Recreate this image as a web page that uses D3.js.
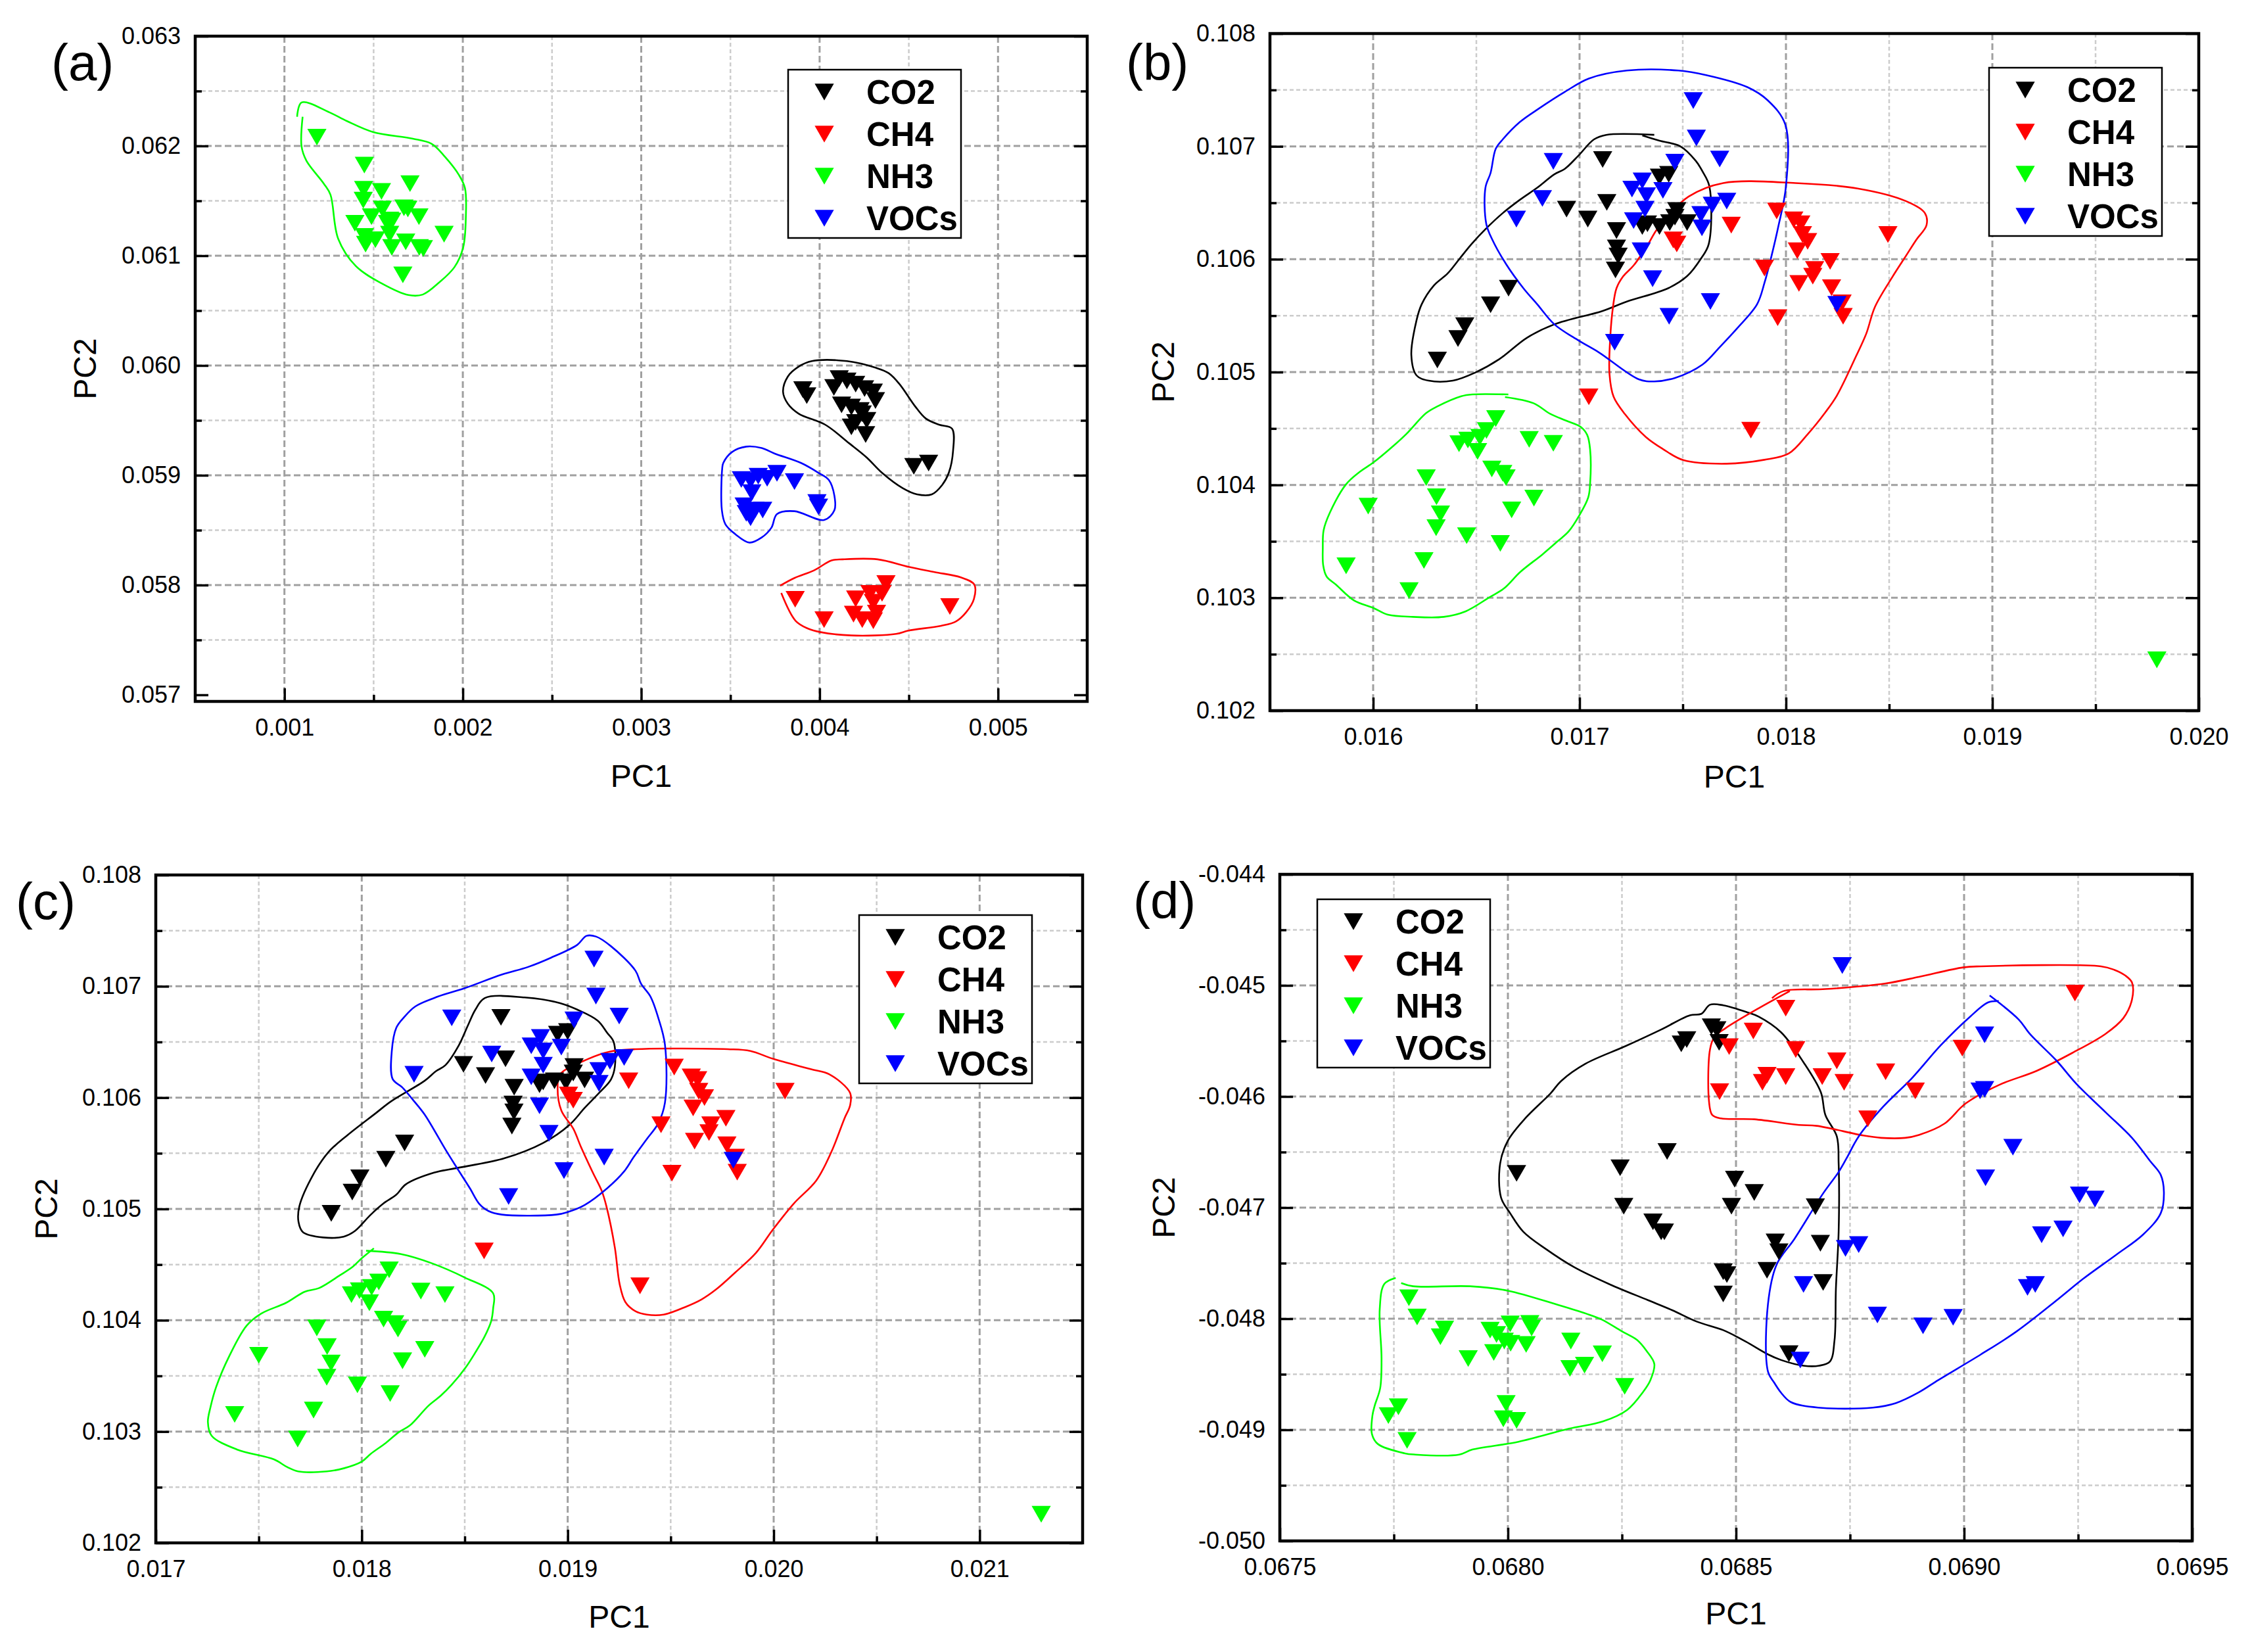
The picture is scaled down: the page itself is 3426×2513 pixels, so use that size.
<!DOCTYPE html>
<html>
<head>
<meta charset="utf-8">
<script src="https://cdn.jsdelivr.net/npm/d3@7"></script>
<style>
  body { margin: 0; background: #fff; }
  text { font-family: "Liberation Sans", Arial, sans-serif; }
  .grid-major { stroke: #a0a0a0; stroke-width: 3; stroke-dasharray: 10,5; }
  .grid-minor { stroke: #cccccc; stroke-width: 2.5; stroke-dasharray: 6,4; }
</style>
</head>
<body>
<svg width="3426" height="2513"></svg>
<script>
const svg = d3.select('svg')
const w = +svg.attr('width')
const h = +svg.attr('height')

const seriesNames = ['CO2', 'CH4', 'NH3', 'VOCs']
const seriesColors = ['#000000', '#ff0000', '#00ff00', '#0000ff']

// ---- panel (a) ----
const a_xTicks = [0.001, 0.002, 0.003, 0.004, 0.005]
const a_xMinor = [0.0015, 0.0025, 0.0035, 0.0045]
const a_yTicks = [0.057, 0.058, 0.059, 0.060, 0.061, 0.062, 0.063]
const a_yMinor = [0.0575, 0.0585, 0.0595, 0.0605, 0.0615, 0.0625]

const a_CO2 = [[0.003906,0.059780],[0.003928,0.059725],[0.004110,0.059880],[0.004080,0.059800],[0.004153,0.059860],[0.004202,0.059830],[0.004252,0.059790],[0.004301,0.059760],[0.004313,0.059681],[0.004123,0.059641],[0.004178,0.059621],[0.004227,0.059591],[0.004239,0.059561],[0.004202,0.059481],[0.004178,0.059441],[0.004264,0.059501],[0.004258,0.059371],[0.004528,0.059082],[0.004611,0.059112]]
const a_CH4 = [[0.003863,0.057870],[0.004025,0.057685],[0.004202,0.057874],[0.004282,0.057924],[0.004372,0.058014],[0.004350,0.057924],[0.004190,0.057735],[0.004239,0.057685],[0.004301,0.057675],[0.004319,0.057745],[0.004301,0.057844],[0.004730,0.057804]]
const a_NH3 = [[0.001182,0.062080],[0.001448,0.061826],[0.001444,0.061606],[0.001544,0.061586],[0.001704,0.061656],[0.001442,0.061506],[0.001549,0.061426],[0.001670,0.061436],[0.001692,0.061426],[0.001488,0.061356],[0.001395,0.061296],[0.001590,0.061326],[0.001602,0.061316],[0.001754,0.061356],[0.001449,0.061176],[0.001510,0.061146],[0.001590,0.061196],[0.001602,0.061076],[0.001680,0.061126],[0.001756,0.061076],[0.001779,0.061066],[0.001895,0.061196],[0.001664,0.060826],[0.001455,0.061106],[0.001578,0.061296]]
const a_VOCs = [[0.003561,0.058962],[0.003613,0.058952],[0.003656,0.058992],[0.003706,0.058972],[0.003761,0.059018],[0.003859,0.058942],[0.003620,0.058842],[0.003577,0.058722],[0.003681,0.058683],[0.003613,0.058613],[0.003589,0.058653],[0.003985,0.058752],[0.003994,0.058712],[0.003638,0.058683]]

const a_CO2_hull = [[0.003822,0.059900],[0.003883,0.059990],[0.003957,0.060040],[0.004153,0.060040],[0.004313,0.059980],[0.004387,0.059930],[0.004448,0.059830],[0.004534,0.059631],[0.004595,0.059517],[0.004669,0.059461],[0.004742,0.059425],[0.004748,0.059222],[0.004724,0.059022],[0.004687,0.058912],[0.004629,0.058826],[0.004546,0.058826],[0.004466,0.058882],[0.004350,0.059022],[0.004264,0.059162],[0.004166,0.059291],[0.004031,0.059461],[0.003883,0.059561],[0.003822,0.059651],[0.003795,0.059760]]
const a_CH4_hull = [[0.003785,0.057928],[0.003865,0.057675],[0.003933,0.057605],[0.004006,0.057571],[0.004178,0.057541],[0.004429,0.057555],[0.004497,0.057585],[0.004681,0.057629],[0.004764,0.057669],[0.004822,0.057754],[0.004865,0.057874],[0.004867,0.058004],[0.004791,0.058070],[0.004644,0.058118],[0.004503,0.058164],[0.004325,0.058234],[0.004129,0.058234],[0.004067,0.058224],[0.003969,0.058134],[0.003859,0.058064],[0.003779,0.057994]]
const a_NH3_hull = [[0.001102,0.062266],[0.001096,0.061996],[0.001123,0.061866],[0.001221,0.061656],[0.001258,0.061556],[0.001301,0.061156],[0.001400,0.060906],[0.001547,0.060746],[0.001695,0.060642],[0.001775,0.060646],[0.001867,0.060756],[0.001953,0.060896],[0.002002,0.061076],[0.002017,0.061356],[0.002012,0.061616],[0.001978,0.061736],[0.001892,0.061916],[0.001824,0.062020],[0.001720,0.062066],[0.001498,0.062126],[0.001351,0.062226],[0.001252,0.062306],[0.001096,0.062396],[0.001071,0.062266]]
const a_VOCs_hull = [[0.003509,0.059212],[0.003589,0.059261],[0.003675,0.059248],[0.003748,0.059198],[0.003896,0.059112],[0.003994,0.059022],[0.004052,0.058956],[0.004083,0.058812],[0.004083,0.058683],[0.004025,0.058593],[0.003859,0.058673],[0.003761,0.058647],[0.003730,0.058523],[0.003675,0.058433],[0.003607,0.058387],[0.003528,0.058463],[0.003472,0.058553],[0.003452,0.058683],[0.003454,0.059062],[0.003460,0.059112]]

// ---- panel (b) ----
const b_xTicks = [0.016, 0.017, 0.018, 0.019, 0.020]
const b_xMinor = [0.0165, 0.0175, 0.0185, 0.0195]
const b_yTicks = [0.102, 0.103, 0.104, 0.105, 0.106, 0.107, 0.108]
const b_yMinor = [0.1025, 0.1035, 0.1045, 0.1055, 0.1065, 0.1075]

const b_CO2 = [[0.017112,0.106884],[0.016937,0.106444],[0.017040,0.106356],[0.017132,0.106504],[0.017179,0.106254],[0.017179,0.106100],[0.017187,0.106029],[0.017174,0.105905],[0.017387,0.106729],[0.017432,0.106753],[0.017471,0.106432],[0.017329,0.106314],[0.017387,0.106290],[0.017437,0.106325],[0.017521,0.106325],[0.017462,0.106373],[0.017304,0.106290],[0.016656,0.105743],[0.016569,0.105596],[0.016444,0.105411],[0.016411,0.105297],[0.016311,0.105107]]
const b_CH4 = [[0.017955,0.106428],[0.017735,0.106302],[0.017454,0.106171],[0.017471,0.106135],[0.018038,0.106349],[0.018072,0.106314],[0.018080,0.106219],[0.018105,0.106159],[0.018055,0.106076],[0.018494,0.106219],[0.017896,0.105922],[0.018214,0.105981],[0.018139,0.105910],[0.018130,0.105850],[0.018063,0.105786],[0.018221,0.105748],[0.018272,0.105613],[0.018277,0.105494],[0.017960,0.105482],[0.017045,0.104781],[0.017830,0.104485]]
const b_NH3 = [[0.016594,0.104588],[0.016549,0.104482],[0.016517,0.104423],[0.016459,0.104398],[0.016416,0.104365],[0.016506,0.104297],[0.016756,0.104404],[0.016873,0.104369],[0.016575,0.104142],[0.016628,0.104103],[0.016644,0.104064],[0.016257,0.104064],[0.016307,0.103895],[0.015976,0.103812],[0.016779,0.103883],[0.016671,0.103779],[0.016326,0.103744],[0.016305,0.103621],[0.016453,0.103550],[0.016616,0.103482],[0.016246,0.103330],[0.015869,0.103283],[0.016174,0.103064],[0.019797,0.102450]]
const b_VOCs = [[0.017551,0.107406],[0.017566,0.107074],[0.017679,0.106888],[0.016873,0.106867],[0.017462,0.106860],[0.017304,0.106694],[0.017254,0.106622],[0.017404,0.106610],[0.017324,0.106563],[0.016820,0.106539],[0.017317,0.106444],[0.016694,0.106356],[0.017262,0.106342],[0.017643,0.106480],[0.017713,0.106515],[0.017588,0.106397],[0.017593,0.106278],[0.017299,0.106076],[0.017354,0.105827],[0.017634,0.105625],[0.017434,0.105494],[0.017170,0.105264],[0.018247,0.105601]]

const b_CO2_hull = [[0.017362,0.107102],[0.017129,0.107102],[0.017070,0.107062],[0.016995,0.106919],[0.016928,0.106800],[0.016878,0.106753],[0.016795,0.106634],[0.016711,0.106527],[0.016628,0.106409],[0.016544,0.106266],[0.016477,0.106135],[0.016419,0.106005],[0.016361,0.105874],[0.016294,0.105767],[0.016235,0.105601],[0.016210,0.105458],[0.016185,0.105150],[0.016210,0.104971],[0.016269,0.104924],[0.016386,0.104924],[0.016494,0.104995],[0.016611,0.105114],[0.016745,0.105304],[0.016878,0.105423],[0.017112,0.105542],[0.017229,0.105625],[0.017429,0.105743],[0.017521,0.105850],[0.017588,0.106005],[0.017626,0.106135],[0.017629,0.106646],[0.017596,0.106777],[0.017563,0.106872],[0.017487,0.107002],[0.017387,0.107050],[0.017304,0.107097]]
const b_CH4_hull = [[0.017529,0.106556],[0.017696,0.106675],[0.018047,0.106675],[0.018347,0.106627],[0.018581,0.106515],[0.018673,0.106409],[0.018681,0.106302],[0.018631,0.106171],[0.018581,0.106029],[0.018514,0.105838],[0.018431,0.105577],[0.018389,0.105340],[0.018339,0.105138],[0.018247,0.104793],[0.018189,0.104639],[0.018105,0.104449],[0.018013,0.104278],[0.017896,0.104223],[0.017713,0.104188],[0.017504,0.104219],[0.017404,0.104318],[0.017321,0.104425],[0.017220,0.104627],[0.017165,0.104781],[0.017145,0.104983],[0.017149,0.105316],[0.017162,0.105577],[0.017179,0.105743],[0.017212,0.105850],[0.017262,0.105945],[0.017329,0.106124],[0.017371,0.106254],[0.017429,0.106385]]
const b_NH3_hull = [[0.016639,0.104779],[0.016777,0.104724],[0.016857,0.104631],[0.016936,0.104569],[0.017005,0.104515],[0.017037,0.104443],[0.017051,0.104317],[0.017051,0.104006],[0.017042,0.103889],[0.017000,0.103734],[0.016947,0.103588],[0.016894,0.103501],[0.016820,0.103384],[0.016713,0.103229],[0.016634,0.103083],[0.016565,0.103006],[0.016448,0.102880],[0.016342,0.102831],[0.016193,0.102831],[0.016071,0.102850],[0.016002,0.102909],[0.015907,0.102977],[0.015822,0.103113],[0.015774,0.103190],[0.015758,0.103287],[0.015756,0.103443],[0.015760,0.103598],[0.015790,0.103753],[0.015869,0.104006],[0.015933,0.104113],[0.016002,0.104200],[0.016098,0.104346],[0.016161,0.104452],[0.016257,0.104637],[0.016310,0.104695],[0.016427,0.104786],[0.016480,0.104802],[0.016655,0.104802]]
const b_VOCs_hull = [[0.016544,0.106634],[0.016569,0.106765],[0.016594,0.106979],[0.016628,0.107062],[0.016711,0.107216],[0.016803,0.107335],[0.016928,0.107482],[0.017045,0.107601],[0.017229,0.107672],[0.017479,0.107672],[0.017613,0.107632],[0.017813,0.107525],[0.017913,0.107406],[0.017997,0.107192],[0.018000,0.106646],[0.017963,0.106290],[0.017930,0.106029],[0.017896,0.105791],[0.017860,0.105601],[0.017763,0.105387],[0.017679,0.105221],[0.017596,0.105067],[0.017462,0.104948],[0.017362,0.104917],[0.017287,0.104936],[0.017095,0.105173],[0.016995,0.105280],[0.016878,0.105423],[0.016795,0.105601],[0.016728,0.105743],[0.016644,0.105957],[0.016578,0.106171],[0.016548,0.106314]]

// ---- panel (c) ----
const c_xTicks = [0.017, 0.018, 0.019, 0.020, 0.021]
const c_xMinor = [0.0175, 0.0185, 0.0195, 0.0205]
const c_yTicks = [0.102, 0.103, 0.104, 0.105, 0.106, 0.107, 0.108]
const c_yMinor = [0.1025, 0.1035, 0.1045, 0.1055, 0.1065, 0.1075]

const c_CO2 = [[0.018676,0.106721],[0.018494,0.106298],[0.018601,0.106198],[0.018698,0.106349],[0.018740,0.106093],[0.018735,0.105942],[0.018739,0.105872],[0.018729,0.105744],[0.018951,0.106570],[0.019000,0.106593],[0.019031,0.106279],[0.018881,0.106140],[0.018936,0.106151],[0.018991,0.106140],[0.019082,0.106158],[0.019027,0.106221],[0.018863,0.106116],[0.018208,0.105593],[0.018117,0.105447],[0.017991,0.105279],[0.017954,0.105151],[0.017852,0.104960]]
const c_CH4 = [[0.019517,0.106274],[0.019296,0.106151],[0.019004,0.106023],[0.019027,0.105977],[0.019600,0.106186],[0.019631,0.106163],[0.019636,0.106058],[0.019664,0.106000],[0.019609,0.105907],[0.020055,0.106058],[0.019453,0.105756],[0.019768,0.105814],[0.019695,0.105756],[0.019686,0.105686],[0.019616,0.105609],[0.019773,0.105577],[0.019814,0.105465],[0.019823,0.105330],[0.019506,0.105321],[0.018594,0.104623],[0.019351,0.104309]]
const c_NH3 = [[0.018133,0.104453],[0.018083,0.104344],[0.018048,0.104295],[0.017989,0.104266],[0.017950,0.104230],[0.018037,0.104157],[0.018287,0.104262],[0.018404,0.104230],[0.018106,0.104010],[0.018160,0.103970],[0.018176,0.103921],[0.017782,0.103931],[0.017832,0.103764],[0.017500,0.103685],[0.018306,0.103738],[0.018198,0.103636],[0.017851,0.103616],[0.017830,0.103488],[0.017979,0.103419],[0.018138,0.103341],[0.017766,0.103193],[0.017383,0.103154],[0.017689,0.102933],[0.021299,0.102257]]
const c_VOCs = [[0.019128,0.107244],[0.019137,0.106912],[0.019250,0.106733],[0.018437,0.106716],[0.019031,0.106698],[0.018868,0.106540],[0.018823,0.106465],[0.018969,0.106453],[0.018881,0.106419],[0.018631,0.106391],[0.018881,0.106291],[0.018254,0.106209],[0.018823,0.106186],[0.019205,0.106326],[0.019274,0.106360],[0.019152,0.106244],[0.019152,0.106128],[0.018863,0.105926],[0.018909,0.105679],[0.019177,0.105465],[0.018982,0.105344],[0.018713,0.105112],[0.019804,0.105437]]

const c_CO2_hull = [[0.018598,0.106895],[0.018790,0.106900],[0.018963,0.106849],[0.019046,0.106791],[0.019146,0.106691],[0.019192,0.106581],[0.019223,0.106500],[0.019229,0.106279],[0.019210,0.106163],[0.019155,0.106047],[0.019082,0.105907],[0.019009,0.105756],[0.018881,0.105593],[0.018689,0.105453],[0.018461,0.105367],[0.018351,0.105326],[0.018214,0.105221],[0.018168,0.105128],[0.018104,0.105047],[0.018040,0.104942],[0.017967,0.104802],[0.017912,0.104751],[0.017812,0.104744],[0.017715,0.104791],[0.017693,0.104884],[0.017697,0.105023],[0.017766,0.105314],[0.017839,0.105512],[0.017931,0.105663],[0.018068,0.105860],[0.018141,0.105965],[0.018305,0.106151],[0.018360,0.106237],[0.018406,0.106291],[0.018470,0.106465],[0.018516,0.106651],[0.018552,0.106791]]
const c_CH4_hull = [[0.018963,0.106209],[0.019101,0.106349],[0.019201,0.106412],[0.019329,0.106435],[0.019777,0.106435],[0.019887,0.106419],[0.019996,0.106349],[0.020179,0.106256],[0.020271,0.106209],[0.020371,0.106042],[0.020371,0.105930],[0.020344,0.105814],[0.020280,0.105512],[0.020207,0.105256],[0.020097,0.105047],[0.019996,0.104814],[0.019914,0.104605],[0.019814,0.104430],[0.019722,0.104279],[0.019649,0.104186],[0.019567,0.104116],[0.019466,0.104051],[0.019384,0.104051],[0.019329,0.104081],[0.019280,0.104163],[0.019252,0.104326],[0.019229,0.104651],[0.019188,0.105023],[0.019165,0.105163],[0.019122,0.105326],[0.019064,0.105558],[0.019027,0.105721],[0.018969,0.105884],[0.018951,0.106093]]
const c_NH3_hull = [[0.018021,0.104624],[0.018191,0.104594],[0.018340,0.104512],[0.018500,0.104384],[0.018638,0.104242],[0.018638,0.104108],[0.018628,0.103990],[0.018596,0.103852],[0.018553,0.103715],[0.018505,0.103577],[0.018436,0.103419],[0.018383,0.103321],[0.018324,0.103232],[0.018234,0.103055],[0.018181,0.102996],[0.018117,0.102898],[0.018043,0.102799],[0.018000,0.102730],[0.017915,0.102671],[0.017830,0.102642],[0.017691,0.102642],[0.017638,0.102681],[0.017574,0.102750],[0.017394,0.102839],[0.017271,0.102963],[0.017253,0.103085],[0.017266,0.103222],[0.017293,0.103400],[0.017356,0.103675],[0.017441,0.103951],[0.017511,0.104059],[0.017633,0.104157],[0.017723,0.104256],[0.017793,0.104289],[0.017894,0.104404],[0.017957,0.104482],[0.018000,0.104557],[0.018059,0.104646]]
const c_VOCs_hull = [[0.018150,0.106167],[0.018146,0.106419],[0.018168,0.106628],[0.018205,0.106721],[0.018260,0.106819],[0.018369,0.106907],[0.018497,0.106981],[0.018680,0.107105],[0.018808,0.107174],[0.018918,0.107256],[0.019046,0.107372],[0.019091,0.107453],[0.019137,0.107447],[0.019210,0.107360],[0.019329,0.107140],[0.019356,0.107023],[0.019402,0.106907],[0.019439,0.106721],[0.019472,0.106477],[0.019472,0.105953],[0.019439,0.105767],[0.019384,0.105628],[0.019320,0.105465],[0.019274,0.105337],[0.019192,0.105186],[0.019082,0.105035],[0.019000,0.104972],[0.018945,0.104949],[0.018680,0.104949],[0.018616,0.104981],[0.018570,0.105047],[0.018525,0.105186],[0.018461,0.105372],[0.018406,0.105535],[0.018305,0.105849],[0.018250,0.105977],[0.018196,0.106093]]

// ---- panel (d) ----
const d_xTicks = [0.0675, 0.0680, 0.0685, 0.0690, 0.0695]
const d_xMinor = [0.06775, 0.06825, 0.06875, 0.06925]
const d_yTicks = [-0.050, -0.049, -0.048, -0.047, -0.046, -0.045, -0.044]
const d_yMinor = [-0.0495, -0.0485, -0.0475, -0.0465, -0.0455, -0.0445]

const d_CO2 = [[0.068446,-0.045372],[0.068458,-0.045397],[0.068392,-0.045487],[0.068380,-0.045526],[0.068463,-0.045513],[0.068349,-0.046495],[0.068246,-0.046641],[0.068019,-0.046692],[0.068497,-0.046744],[0.068540,-0.046864],[0.068254,-0.046987],[0.068490,-0.046987],[0.068674,-0.046992],[0.068318,-0.047128],[0.068336,-0.047218],[0.068343,-0.047218],[0.068586,-0.047308],[0.068594,-0.047397],[0.068685,-0.047321],[0.068472,-0.047577],[0.068480,-0.047603],[0.068568,-0.047564],[0.068691,-0.047674],[0.068472,-0.047777],[0.068616,-0.048315]]
const d_CH4 = [[0.068609,-0.045205],[0.068538,-0.045410],[0.068485,-0.045551],[0.068631,-0.045577],[0.068721,-0.045679],[0.068568,-0.045808],[0.068558,-0.045872],[0.068609,-0.045821],[0.068689,-0.045821],[0.068737,-0.045872],[0.068828,-0.045777],[0.068464,-0.045956],[0.068893,-0.045949],[0.068996,-0.045564],[0.068789,-0.046200],[0.069243,-0.045069]]
const d_NH3 = [[0.067783,-0.047811],[0.067801,-0.047984],[0.067861,-0.048093],[0.067852,-0.048162],[0.067961,-0.048103],[0.067975,-0.048142],[0.068005,-0.048047],[0.068048,-0.048043],[0.068052,-0.048083],[0.067992,-0.048201],[0.068006,-0.048221],[0.068040,-0.048231],[0.067969,-0.048304],[0.067913,-0.048359],[0.068138,-0.048201],[0.068207,-0.048316],[0.068168,-0.048418],[0.068136,-0.048448],[0.068256,-0.048609],[0.067996,-0.048763],[0.067760,-0.048793],[0.067738,-0.048872],[0.067990,-0.048901],[0.068019,-0.048915],[0.067779,-0.049095]]
const d_VOCs = [[0.068733,-0.044821],[0.069045,-0.045444],[0.069035,-0.045949],[0.069045,-0.045936],[0.069107,-0.046456],[0.069047,-0.046731],[0.069253,-0.046885],[0.069287,-0.046923],[0.069217,-0.047192],[0.069170,-0.047244],[0.068740,-0.047367],[0.068769,-0.047333],[0.068648,-0.047692],[0.069139,-0.047718],[0.069156,-0.047692],[0.068810,-0.047967],[0.068910,-0.048064],[0.068976,-0.047987],[0.068641,-0.048372]]

const d_CO2_hull = [[0.068443,-0.045174],[0.068472,-0.045179],[0.068526,-0.045244],[0.068550,-0.045282],[0.068599,-0.045423],[0.068648,-0.045692],[0.068686,-0.045962],[0.068696,-0.046167],[0.068721,-0.046359],[0.068725,-0.046603],[0.068725,-0.047218],[0.068719,-0.047731],[0.068716,-0.048192],[0.068706,-0.048385],[0.068682,-0.048423],[0.068648,-0.048423],[0.068599,-0.048372],[0.068570,-0.048321],[0.068521,-0.048205],[0.068472,-0.048103],[0.068414,-0.048026],[0.068360,-0.047923],[0.068307,-0.047833],[0.068224,-0.047692],[0.068146,-0.047538],[0.068083,-0.047372],[0.068034,-0.047218],[0.068005,-0.047051],[0.067985,-0.046910],[0.067983,-0.046603],[0.068000,-0.046397],[0.068039,-0.046192],[0.068093,-0.045974],[0.068117,-0.045859],[0.068170,-0.045705],[0.068258,-0.045546],[0.068336,-0.045397],[0.068399,-0.045269],[0.068424,-0.045256]]
const d_CH4_hull = [[0.068579,-0.045115],[0.068604,-0.045051],[0.068696,-0.045033],[0.068828,-0.044982],[0.068901,-0.044923],[0.068998,-0.044838],[0.069037,-0.044828],[0.069300,-0.044828],[0.069329,-0.044859],[0.069353,-0.044910],[0.069368,-0.044974],[0.069368,-0.045128],[0.069349,-0.045295],[0.069310,-0.045436],[0.069237,-0.045608],[0.069159,-0.045769],[0.069076,-0.045897],[0.069003,-0.046064],[0.068957,-0.046244],[0.068901,-0.046346],[0.068871,-0.046372],[0.068818,-0.046372],[0.068779,-0.046351],[0.068677,-0.046264],[0.068638,-0.046256],[0.068540,-0.046205],[0.068467,-0.046197],[0.068448,-0.046167],[0.068441,-0.046051],[0.068443,-0.045577],[0.068453,-0.045462],[0.068477,-0.045385],[0.068550,-0.045205],[0.068618,-0.045051]]
const d_NH3_hull = [[0.067766,-0.047679],[0.067792,-0.047708],[0.067917,-0.047708],[0.068000,-0.047748],[0.068110,-0.047876],[0.068172,-0.047955],[0.068206,-0.048008],[0.068249,-0.048112],[0.068283,-0.048191],[0.068304,-0.048290],[0.068321,-0.048408],[0.068312,-0.048556],[0.068297,-0.048655],[0.068261,-0.048822],[0.068208,-0.048925],[0.068134,-0.048990],[0.068023,-0.049108],[0.067922,-0.049178],[0.067893,-0.049223],[0.067797,-0.049223],[0.067773,-0.049211],[0.067715,-0.049128],[0.067702,-0.049039],[0.067703,-0.048872],[0.067708,-0.048783],[0.067720,-0.048625],[0.067723,-0.048359],[0.067719,-0.047915],[0.067729,-0.047688],[0.067754,-0.047633]]
const d_VOCs_hull = [[0.069056,-0.045090],[0.069120,-0.045308],[0.069144,-0.045436],[0.069203,-0.045679],[0.069246,-0.045885],[0.069310,-0.046141],[0.069368,-0.046372],[0.069407,-0.046577],[0.069431,-0.046705],[0.069438,-0.046859],[0.069431,-0.047051],[0.069392,-0.047244],[0.069334,-0.047423],[0.069261,-0.047641],[0.069207,-0.047821],[0.069115,-0.048115],[0.069037,-0.048321],[0.068944,-0.048551],[0.068901,-0.048662],[0.068850,-0.048760],[0.068800,-0.048800],[0.068680,-0.048800],[0.068620,-0.048750],[0.068599,-0.048667],[0.068584,-0.048577],[0.068570,-0.048474],[0.068570,-0.047872],[0.068589,-0.047513],[0.068628,-0.047282],[0.068691,-0.046872],[0.068725,-0.046679],[0.068743,-0.046551],[0.068769,-0.046359],[0.068823,-0.046090],[0.068886,-0.045833],[0.068949,-0.045538],[0.069013,-0.045282],[0.069052,-0.045154],[0.069076,-0.045141]]

// layout of the four panels (pixel boxes, legend boxes, label spots)
const panels = [
  { label: '(a)', lx: 78, ly: 122,
    xDomain: [0.0005, 0.0055], yDomain: [0.05694, 0.063],
    left: 297, right: 1654, top: 55, bottom: 1067,
    xTicks: a_xTicks, xMinor: a_xMinor, yTicks: a_yTicks, yMinor: a_yMinor,
    xFmt: d => d.toFixed(3), yFmt: d => d.toFixed(3),
    data: [a_CO2, a_CH4, a_NH3, a_VOCs],
    hulls: [[a_CO2_hull, true], [a_CH4_hull, false], [a_NH3_hull, false], [a_VOCs_hull, true]],
    legend: {x: 1199, y: 106}, xTitleY: 1197, yTitleX: 146 },
  { label: '(b)', lx: 1713, ly: 122,
    xDomain: [0.0155, 0.020], yDomain: [0.102, 0.108],
    left: 1932, right: 3345, top: 51, bottom: 1081,
    xTicks: b_xTicks, xMinor: b_xMinor, yTicks: b_yTicks, yMinor: b_yMinor,
    xFmt: d => d.toFixed(3), yFmt: d => d.toFixed(3),
    data: [b_CO2, b_CH4, b_NH3, b_VOCs],
    hulls: [[b_CO2_hull, false], [b_CH4_hull, true], [b_NH3_hull, false], [b_VOCs_hull, true]],
    legend: {x: 3026, y: 103}, xTitleY: 1198, yTitleX: 1786 },
  { label: '(c)', lx: 24, ly: 1398,
    xDomain: [0.017, 0.0215], yDomain: [0.102, 0.108],
    left: 237, right: 1647, top: 1331, bottom: 2347,
    xTicks: c_xTicks, xMinor: c_xMinor, yTicks: c_yTicks, yMinor: c_yMinor,
    xFmt: d => d.toFixed(3), yFmt: d => d.toFixed(3),
    data: [c_CO2, c_CH4, c_NH3, c_VOCs],
    hulls: [[c_CO2_hull, true], [c_CH4_hull, true], [c_NH3_hull, false], [c_VOCs_hull, true]],
    legend: {x: 1307, y: 1392}, xTitleY: 2476, yTitleX: 87 },
  { label: '(d)', lx: 1724, ly: 1397,
    xDomain: [0.0675, 0.0695], yDomain: [-0.050, -0.044],
    left: 1947, right: 3335, top: 1330, bottom: 2344,
    xTicks: d_xTicks, xMinor: d_xMinor, yTicks: d_yTicks, yMinor: d_yMinor,
    xFmt: d => d.toFixed(4), yFmt: d => d.toFixed(3),
    data: [d_CO2, d_CH4, d_NH3, d_VOCs],
    hulls: [[d_CO2_hull, true], [d_CH4_hull, false], [d_NH3_hull, false], [d_VOCs_hull, false]],
    legend: {x: 2004, y: 1368}, xTitleY: 2471, yTitleX: 1787 }
]

// downward triangle, centred on its bounding box like Origin's symbol
const downTri = {
  draw(ctx, size) {
    const s = Math.sqrt(size * 4 / Math.sqrt(3))
    const t = s * Math.sqrt(3) / 2
    ctx.moveTo(-s / 2, -t / 2)
    ctx.lineTo(s / 2, -t / 2)
    ctx.lineTo(0, t / 2)
    ctx.closePath()
  }
}
const sym = d3.symbol().type(downTri).size(370)

const drawPanel = p => {
  const xScale = d3.scaleLinear().domain(p.xDomain).range([p.left, p.right])
  const yScale = d3.scaleLinear().domain(p.yDomain).range([p.bottom, p.top])
  const g = svg.append('g')

  const inX = v => v > p.xDomain[0] + 1e-9 && v < p.xDomain[1] - 1e-9
  const inY = v => v > p.yDomain[0] + 1e-4 && v < p.yDomain[1] - 1e-6

  // grid
  g.selectAll('.gxm').data(p.xMinor.filter(inX)).enter().append('line')
    .attr('class', 'grid-minor')
    .attr('x1', d => xScale(d)).attr('x2', d => xScale(d))
    .attr('y1', p.top).attr('y2', p.bottom)
  g.selectAll('.gym').data(p.yMinor.filter(inY)).enter().append('line')
    .attr('class', 'grid-minor')
    .attr('y1', d => yScale(d)).attr('y2', d => yScale(d))
    .attr('x1', p.left).attr('x2', p.right)
  g.selectAll('.gx').data(p.xTicks.filter(inX)).enter().append('line')
    .attr('class', 'grid-major')
    .attr('x1', d => xScale(d)).attr('x2', d => xScale(d))
    .attr('y1', p.top).attr('y2', p.bottom)
  g.selectAll('.gy').data(p.yTicks.filter(inY)).enter().append('line')
    .attr('class', 'grid-major')
    .attr('y1', d => yScale(d)).attr('y2', d => yScale(d))
    .attr('x1', p.left).attr('x2', p.right)

  // hull outlines
  p.hulls.forEach(([pts, closed], i) => {
    const line = d3.line()
      .x(d => xScale(d[0])).y(d => yScale(d[1]))
      .curve(closed ? d3.curveCatmullRomClosed.alpha(0.5) : d3.curveCatmullRom.alpha(0.5))
    g.append('path').attr('d', line(pts))
      .attr('fill', 'none').attr('stroke', seriesColors[i]).attr('stroke-width', 2.6)
  })

  // points
  p.data.forEach((pts, i) => {
    g.selectAll(null).data(pts).enter().append('path')
      .attr('d', sym)
      .attr('transform', d => `translate(${xScale(d[0])},${yScale(d[1])})`)
      .attr('fill', seriesColors[i])
  })

  // axes (ticks inward)
  const styleAxis = sel => {
    sel.select('.domain').remove()
    sel.selectAll('.tick line').attr('stroke', '#000').attr('stroke-width', 3.5)
    sel.selectAll('.tick text').attr('font-size', 36).attr('fill', '#000')
      .attr('font-family', '"Liberation Sans", Arial, sans-serif')
  }
  const minorAxis = (gen, vals) => gen.tickValues(vals).tickSize(-10).tickFormat('')

  g.append('g').attr('transform', `translate(0,${p.bottom})`)
    .call(d3.axisBottom(xScale).tickValues(p.xTicks).tickSize(-20).tickPadding(26).tickFormat(p.xFmt))
    .call(styleAxis)
  g.append('g').attr('transform', `translate(0,${p.bottom})`)
    .call(minorAxis(d3.axisBottom(xScale), p.xMinor)).call(styleAxis)
  g.append('g').attr('transform', `translate(${p.left},0)`)
    .call(d3.axisLeft(yScale).tickValues(p.yTicks).tickSize(-20).tickPadding(22).tickFormat(p.yFmt))
    .call(styleAxis)
  g.append('g').attr('transform', `translate(${p.left},0)`)
    .call(minorAxis(d3.axisLeft(yScale), p.yMinor)).call(styleAxis)
  g.append('g').attr('transform', `translate(${p.right},0)`)
    .call(d3.axisRight(yScale).tickValues(p.yTicks).tickSize(-20).tickFormat(''))
    .call(styleAxis)
  g.append('g').attr('transform', `translate(${p.right},0)`)
    .call(minorAxis(d3.axisRight(yScale), p.yMinor)).call(styleAxis)

  // frame
  g.append('rect')
    .attr('x', p.left).attr('y', p.top)
    .attr('width', p.right - p.left).attr('height', p.bottom - p.top)
    .attr('fill', 'none').attr('stroke', '#000').attr('stroke-width', 4.5)

  // titles
  g.append('text').text('PC1')
    .attr('x', (p.left + p.right) / 2).attr('y', p.xTitleY)
    .attr('text-anchor', 'middle').attr('font-size', 48)
  g.append('text').text('PC2')
    .attr('transform', `translate(${p.yTitleX},${(p.top + p.bottom) / 2}) rotate(-90)`)
    .attr('text-anchor', 'middle').attr('font-size', 48)
  g.append('text').text(p.label)
    .attr('x', p.lx).attr('y', p.ly).attr('font-size', 78)

  // legend
  const lg = g.append('g').attr('transform', `translate(${p.legend.x},${p.legend.y})`)
  lg.append('rect').attr('width', 263).attr('height', 256)
    .attr('fill', '#fff').attr('stroke', '#000').attr('stroke-width', 2.5)
  seriesNames.forEach((name, i) => {
    const cy = 34 + i * 64
    lg.append('path').attr('d', sym).attr('transform', `translate(55,${cy})`)
      .attr('fill', seriesColors[i])
    lg.append('text').text(name)
      .attr('x', 119).attr('y', cy + 18)
      .attr('font-size', 51).attr('font-weight', 'bold')
  })
}

panels.forEach(drawPanel)
</script>
</body>
</html>
